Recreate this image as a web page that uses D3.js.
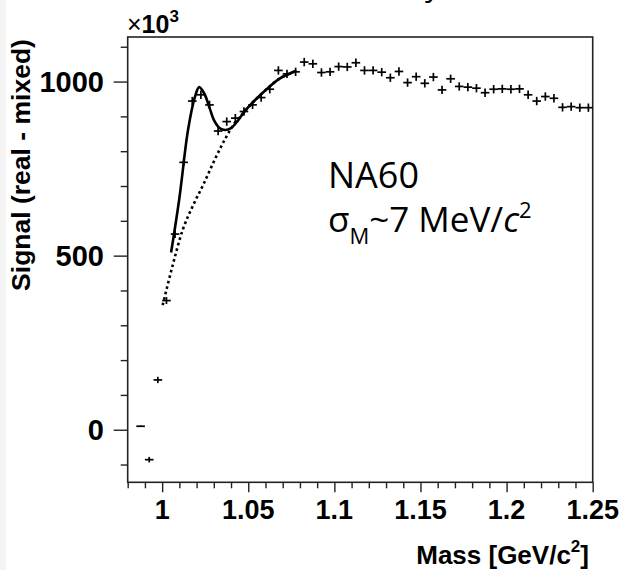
<!DOCTYPE html>
<html>
<head>
<meta charset="utf-8">
<script src="https://cdn.jsdelivr.net/npm/d3@7"></script>
<style>
  body { margin: 0; background: #fff; }
  svg { display: block; }
</style>
</head>
<body>
<svg id="chart" width="626" height="570"></svg>
<script>
// Bin centres of the mass histogram [GeV/c^2]
const massBins = [
  0.9875, 0.9925, 0.9975, 1.0025, 1.0075, 1.0125, 1.0175, 1.0225, 1.0275, 1.0325,
  1.0375, 1.0425, 1.0475, 1.0525, 1.0575, 1.0625, 1.0675, 1.0725, 1.0775, 1.0825,
  1.0875, 1.0925, 1.0975, 1.1025, 1.1075, 1.1125, 1.1175, 1.1225, 1.1275, 1.1325,
  1.1375, 1.1425, 1.1475, 1.1525, 1.1575, 1.1625, 1.1675, 1.1725, 1.1775, 1.1825,
  1.1875, 1.1925, 1.1975, 1.2025, 1.2075, 1.2125, 1.2175, 1.2225, 1.2275, 1.2325,
  1.2375, 1.2425, 1.2475
];
// Signal (real - mixed), in units of 10^3
const signal = [
  10, -86, 143, 371, 562, 768, 944, 962, 933, 858,
  885, 895, 914, 933, 954, 978, 1032, 1022, 1028, 1056,
  1051, 1026, 1028, 1043, 1042, 1054, 1032, 1032, 1027, 1011,
  1029, 997, 1014, 995, 1013, 976, 1008, 986, 984, 981,
  968, 978, 979, 978, 979, 962, 944, 957, 952, 926,
  928, 925, 925
];
// Statistical errors on the signal
const signalErr = [
  2, 8, 9, 10, 11, 11, 12, 12, 12, 12,
  12, 12, 12, 12, 12, 12, 12, 12, 12, 12,
  12, 12, 12, 12, 12, 12, 12, 12, 12, 12,
  12, 12, 12, 12, 12, 12, 12, 12, 12, 12,
  12, 12, 12, 12, 12, 12, 12, 12, 12, 12,
  12, 12, 12
];
const binHalfWidth = 0.0025;

// Full fit (peak + continuum)
const fitMass   = [1.0052, 1.0100, 1.0150, 1.0190, 1.0215, 1.0245, 1.0275, 1.0300, 1.0335, 1.0366,
                   1.0400, 1.0440, 1.0480, 1.0530, 1.0600, 1.0680, 1.0780];
const fitSignal = [509, 665, 860, 955, 984, 965, 925, 890, 866, 861,
                   866, 888, 915, 942, 975, 1008, 1031];

// Continuum component of the fit
const bkgMass   = [1.0003, 1.0060, 1.0120, 1.0180, 1.0240, 1.0300, 1.0360, 1.0420, 1.0480, 1.0530,
                   1.0600, 1.0680, 1.0780];
const bkgSignal = [358, 470, 575, 645, 705, 770, 830, 880, 915, 942,
                   975, 1008, 1031];

const xMajorTicks = [1, 1.05, 1.1, 1.15, 1.2, 1.25];
const xTickLabels = ["1", "1.05", "1.1", "1.15", "1.2", "1.25"];
const xMinorTicks = [0.98, 0.99, 1.01, 1.02, 1.03, 1.04, 1.06, 1.07, 1.08, 1.09,
                     1.11, 1.12, 1.13, 1.14, 1.16, 1.17, 1.18, 1.19, 1.21, 1.22, 1.23, 1.24];
const yMajorTicks = [0, 500, 1000];
const yTickLabels = ["0", "500", "1000"];
const yMinorTicks = [-100, 100, 200, 300, 400, 600, 700, 800, 900, 1100];

const svg = d3.select("#chart");
const axisFont = "'Liberation Sans', Arial, Helvetica, sans-serif";
const noteFont = "'Open Sans', 'Noto Sans', sans-serif";

// Light strip on the left page edge
svg.append("rect").attr("x", 0).attr("y", 0).attr("width", 6).attr("height", 570).attr("fill", "#f4f4f4");

const x = d3.scaleLinear().domain([0.98, 1.25]).range([127.7, 592.7]);
const y = d3.scaleLinear().domain([-151, 1128]).range([482.3, 37]);

// Heading letter cut by the top edge
svg.append("text").attr("x", 425).attr("y", -4)
  .attr("font-family", noteFont).attr("font-size", 30).attr("fill", "#000").text("y");

// Axes
function styleAxis(g) {
  g.select(".domain").remove();
  g.selectAll("line").attr("stroke", "#222").attr("stroke-width", 1.4);
  g.selectAll("text").remove();
}
svg.append("g").attr("transform", `translate(0,${y.range()[0]})`)
  .call(d3.axisBottom(x).tickValues(xMajorTicks).tickSize(10).tickFormat(""))
  .call(styleAxis);
svg.append("g").attr("transform", `translate(0,${y.range()[0]})`)
  .call(d3.axisBottom(x).tickValues(xMinorTicks).tickSize(6).tickFormat(""))
  .call(styleAxis);
svg.append("g").attr("transform", `translate(${x.range()[0]},0)`)
  .call(d3.axisLeft(y).tickValues(yMajorTicks).tickSize(14).tickFormat(""))
  .call(styleAxis);
svg.append("g").attr("transform", `translate(${x.range()[0]},0)`)
  .call(d3.axisLeft(y).tickValues(yMinorTicks).tickSize(7).tickFormat(""))
  .call(styleAxis);

// Frame
svg.append("rect")
  .attr("x", x.range()[0]).attr("y", y.range()[1])
  .attr("width", x.range()[1] - x.range()[0]).attr("height", y.range()[0] - y.range()[1])
  .attr("fill", "none").attr("stroke", "#222").attr("stroke-width", 1.6);

// Tick labels
svg.append("g").selectAll("text").data(xMajorTicks).join("text")
  .attr("x", d => x(d)).attr("y", 519)
  .attr("text-anchor", "middle")
  .attr("font-family", axisFont).attr("font-weight", "bold").attr("font-size", 27)
  .text((d, i) => xTickLabels[i]);
svg.append("g").selectAll("text").data(yMajorTicks).join("text")
  .attr("x", 104).attr("y", d => y(d) + 10.5)
  .attr("text-anchor", "end")
  .attr("font-family", axisFont).attr("font-weight", "bold").attr("font-size", 29)
  .text((d, i) => yTickLabels[i]);

// Axis titles
const xt = svg.append("text").attr("x", 589).attr("y", 564).attr("text-anchor", "end")
  .attr("font-family", axisFont).attr("font-weight", "bold").attr("font-size", 26);
xt.append("tspan").text("Mass [GeV/c");
xt.append("tspan").attr("dy", -12).attr("font-size", 17).text("2");
xt.append("tspan").attr("dy", 12).text("]");

svg.append("text")
  .attr("transform", "translate(30,165) rotate(-90)")
  .attr("text-anchor", "middle")
  .attr("font-family", axisFont).attr("font-weight", "bold").attr("font-size", 26.5)
  .text("Signal (real - mixed)");

// Exponent label
const ex = svg.append("text").attr("x", 127).attr("y", 33)
  .attr("font-family", axisFont).attr("font-size", 25);
ex.append("tspan").text("\u00d7");
ex.append("tspan").attr("font-weight", "bold").text("10");
ex.append("tspan").attr("dy", -11).attr("font-size", 17).attr("font-weight", "bold").text("3");

// Data points with error bars
const pts = svg.append("g").attr("stroke", "#000").attr("stroke-width", 1.7);
massBins.forEach((m, i) => {
  pts.append("line")
    .attr("x1", x(m - binHalfWidth)).attr("x2", x(m + binHalfWidth))
    .attr("y1", y(signal[i])).attr("y2", y(signal[i]));
  pts.append("line")
    .attr("x1", x(m)).attr("x2", x(m))
    .attr("y1", y(signal[i] - signalErr[i])).attr("y2", y(signal[i] + signalErr[i]));
});

// Fit curves
const line = d3.line().x(d => x(d[0])).y(d => y(d[1])).curve(d3.curveCatmullRom.alpha(0.5));
svg.append("path")
  .attr("d", line(bkgMass.map((m, i) => [m, bkgSignal[i]])))
  .attr("fill", "none").attr("stroke", "#000").attr("stroke-width", 2.6)
  .attr("stroke-dasharray", "2.6,3");
svg.append("path")
  .attr("d", line(fitMass.map((m, i) => [m, fitSignal[i]])))
  .attr("fill", "none").attr("stroke", "#000").attr("stroke-width", 2.6);

// Experiment note
svg.append("text").attr("x", 328).attr("y", 188)
  .attr("font-family", noteFont).attr("font-size", 36).attr("fill", "#000").text("NA60");
const n2 = svg.append("text").attr("x", 328).attr("y", 232)
  .attr("font-family", noteFont).attr("font-size", 35).attr("fill", "#000");
n2.append("tspan").text("\u03c3");
n2.append("tspan").attr("dy", 12).attr("font-size", 22).text("M");
n2.append("tspan").attr("dy", -12).text("~7 MeV/");
n2.append("tspan").attr("font-style", "italic").text("c");
n2.append("tspan").attr("dy", -14).attr("font-size", 22).text("2");
</script>
</body>
</html>
